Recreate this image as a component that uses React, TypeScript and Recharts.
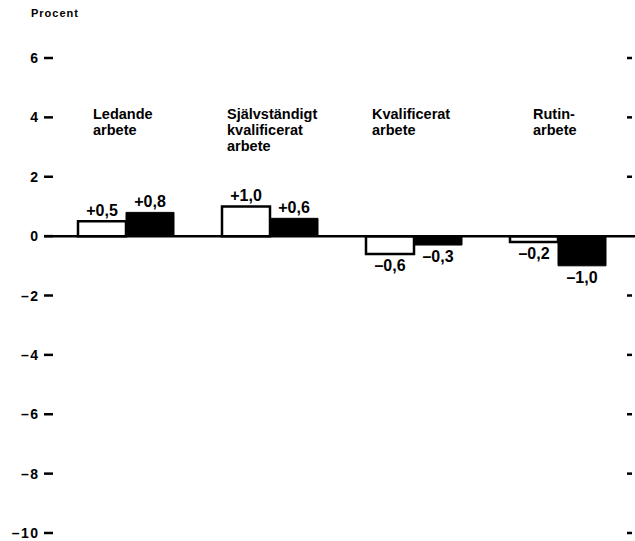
import { BarChart, Bar, XAxis, YAxis, ReferenceLine, LabelList } from "recharts";

const categories = [
  ["Ledande", "arbete"],
  ["Självständigt", "kvalificerat", "arbete"],
  ["Kvalificerat", "arbete"],
  ["Rutin-", "arbete"],
];
const whiteValues = [0.5, 1.0, -0.6, -0.2];
const blackValues = [0.8, 0.6, -0.3, -1.0];
const yTicks = [6, 4, 2, 0, -2, -4, -6, -8, -10];

const data = categories.map((c, i) => ({
  name: c.join(" "),
  white: whiteValues[i],
  black: blackValues[i],
}));

const FONT = "'Liberation Sans', Arial, sans-serif";

function fmt(v: number) {
  const s = Math.abs(v).toFixed(1).replace(".", ",");
  return v > 0 ? `+${s}` : v < 0 ? `\u2013${s}` : s;
}

function tickLabel(v: number) {
  return v < 0 ? `\u2013${Math.abs(v)}` : String(v);
}

// hand-placed left offsets of the category captions
const catDx = [-33, -43, -42, -25];

function CategoryTick(props: any) {
  const { x, y, payload } = props;
  const idx = props.index ?? payload?.index ?? 0;
  const lines = categories[idx] || [];
  const dx = catDx[idx] ?? -40;
  return (
    <text x={x + dx} y={y + 61} fontFamily={FONT} fontSize={14.5} fontWeight="bold" fill="#000">
      {lines.map((l, i) => (
        <tspan key={i} x={x + dx} dy={i === 0 ? 0 : 16}>{l}</tspan>
      ))}
    </text>
  );
}

function LeftTick(props: any) {
  const { x, y, payload } = props;
  return (
    <g>
      <text
        x={x - 14.5}
        y={y + 5}
        textAnchor="end"
        fontFamily={FONT}
        fontSize={14}
        fontWeight="bold"
        letterSpacing={1.5}
        fill="#000"
      >
        {tickLabel(payload.value)}
      </text>
      <line x1={x - 10} x2={x - 1} y1={y} y2={y} stroke="#000" strokeWidth={2.5} />
    </g>
  );
}

function RightTick(props: any) {
  const { x, y, payload } = props;
  if (payload.value === 0) return <g />;
  return <line x1={x - 3} x2={x + 2} y1={y} y2={y} stroke="#000" strokeWidth={2.5} />;
}

function ValueLabel(props: any) {
  const { x, y, width, height, value } = props;
  const top = Math.min(y, y + height);
  const bottom = Math.max(y, y + height);
  const cx = x + width / 2;
  return (
    <text
      x={cx}
      y={value >= 0 ? top - 5 : bottom + 17}
      textAnchor="middle"
      fontFamily={FONT}
      fontSize={16}
      fontWeight="bold"
      fill="#000"
    >
      {fmt(value)}
    </text>
  );
}

function ZeroLine(props: any) {
  const { x1, x2, y1 } = props;
  return <line x1={x1 - 10} x2={x2 + 5} y1={y1} y2={y1} stroke="#000" strokeWidth={2.5} />;
}

export default function App() {
  return (
    <div style={{ position: "absolute", left: 0, top: 0, width: 635, height: 541, background: "#fff" }}>
      <div
        style={{
          position: "absolute",
          left: 31,
          top: 7,
          fontFamily: FONT,
          fontSize: 11,
          fontWeight: "bold",
          letterSpacing: 1,
          color: "#000",
        }}
      >
        Procent
      </div>
      <BarChart
        width={635}
        height={541}
        data={data}
        margin={{ top: 57, right: 0, bottom: 8, left: 0 }}
        barGap={0}
        barCategoryGap={24}
      >
        <XAxis
          dataKey="name"
          orientation="top"
          height={1}
          axisLine={false}
          tickLine={false}
          tickSize={0}
          tickMargin={0}
          tick={<CategoryTick />}
          interval={0}
        />
        <YAxis
          yAxisId="l"
          orientation="left"
          width={54}
          domain={[-10, 6]}
          ticks={yTicks}
          axisLine={false}
          tickLine={false}
          tickSize={0}
          tickMargin={0}
          tick={<LeftTick />}
          interval={0}
        />
        <YAxis
          yAxisId="r"
          orientation="right"
          width={5}
          domain={[-10, 6]}
          ticks={yTicks}
          axisLine={false}
          tickLine={false}
          tickSize={0}
          tickMargin={0}
          tick={<RightTick />}
          interval={0}
        />
        <ReferenceLine yAxisId="l" y={0} shape={<ZeroLine />} />
        <Bar yAxisId="l" dataKey="white" fill="#fff" stroke="#000" strokeWidth={2.5} barSize={48} isAnimationActive={false}>
          <LabelList dataKey="white" content={<ValueLabel />} />
        </Bar>
        <Bar yAxisId="r" dataKey="black" fill="#000" stroke="#000" strokeWidth={1} barSize={48} isAnimationActive={false}>
          <LabelList dataKey="black" content={<ValueLabel />} />
        </Bar>
      </BarChart>
    </div>
  );
}
